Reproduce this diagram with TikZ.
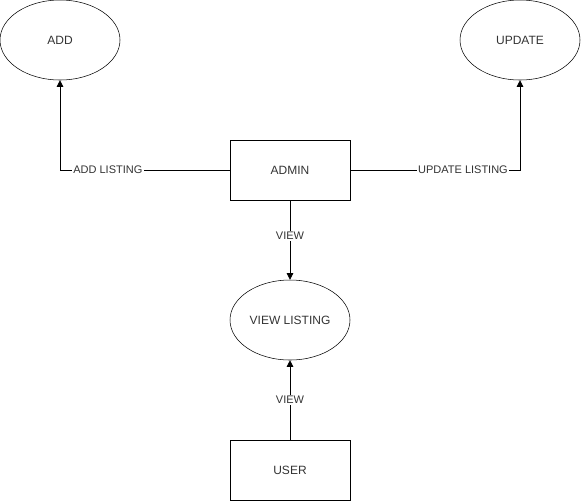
\documentclass[tikz,border=0pt]{standalone}
\usepackage{fontspec}
\setmainfont{Liberation Sans}
\usetikzlibrary{shapes.geometric,arrows.meta}
\begin{document}
\begin{tikzpicture}[x=0.75pt,y=-0.75pt,
  ell/.style={draw,ellipse,minimum width=90pt,minimum height=60pt,inner sep=0pt,font=\fontsize{9}{11}\selectfont,text=black!80},
  box/.style={draw,rectangle,minimum width=90pt,minimum height=45pt,inner sep=0pt,font=\fontsize{9}{11}\selectfont,text=black!80},
  conn/.style={-{Triangle[length=5pt,width=5pt]},line width=0.6pt},
  lbl/.style={fill=white,inner sep=1pt,font=\fontsize{8.25}{10}\selectfont,text=black!80}]
\useasboundingbox (0,0) rectangle (581,501);
\node[ell] (add) at (60,40) {ADD};
\node[ell] (upd) at (520,40) {UPDATE};
\node[box] (admin) at (290,170) {ADMIN};
\node[ell] (view) at (290,320) {VIEW LISTING};
\node[box] (user) at (290,470) {USER};
\draw[conn] (admin.west) -| node[lbl,pos=0.359] {ADD LISTING} (add.south);
\draw[conn] (admin.east) -| node[lbl,pos=0.332] {UPDATE LISTING} (upd.south);
\draw[conn] (admin.south) -- node[lbl,pos=0.45] {VIEW} (view.north);
\draw[conn] (user.north) -- node[lbl,pos=0.5] {VIEW} (view.south);
\end{tikzpicture}
\end{document}
